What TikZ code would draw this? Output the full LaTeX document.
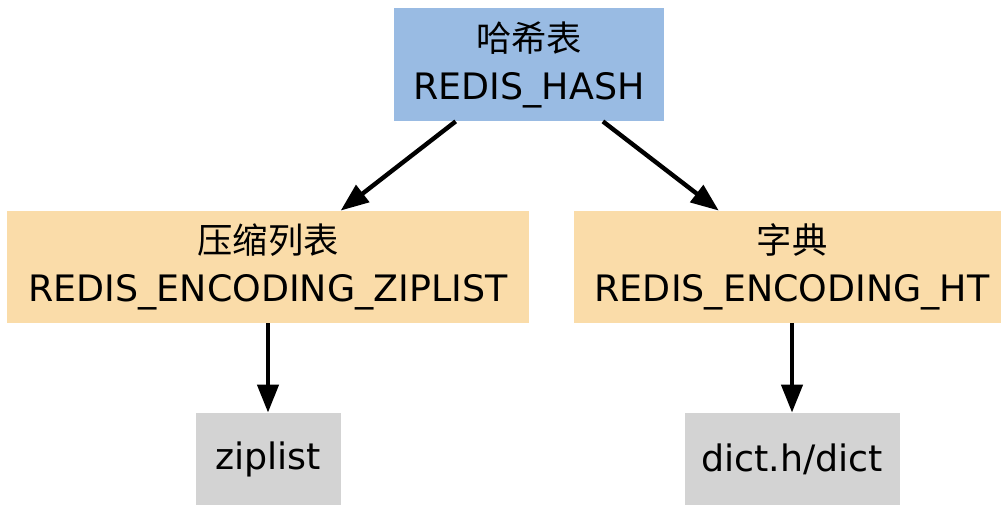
\documentclass[tikz,border=0pt]{standalone}
\usepackage{fontspec}
\setmainfont{DejaVu Sans}
\newfontfamily\cjk[Scale=0.97]{Noto Sans CJK SC}
\usetikzlibrary{arrows.meta}
\definecolor{hashblue}{HTML}{99BBE3}
\definecolor{encwheat}{HTML}{FADCA9}
\definecolor{implgray}{HTML}{D3D3D3}

\begin{document}
\begin{tikzpicture}[x=0.5pt, y=-0.5pt,
    box/.style={inner sep=0pt, align=center, font=\fontsize{18.2}{24}\selectfont},
    edge/.style={-{Triangle[length=14pt,width=10.5pt]}, line width=2.2pt}]
    \clip (0,0) rectangle (1001,505);
    \node[box, fill=hashblue, minimum width=135pt, minimum height=56.5pt] (hash) at (529,64.5) {{\cjk 哈希表}\\REDIS\_HASH};
    \node[box, fill=encwheat, minimum width=261pt, minimum height=56pt] (zipenc) at (268,267) {{\cjk 压缩列表}\\REDIS\_ENCODING\_ZIPLIST};
    \node[box, fill=encwheat, minimum width=218pt, minimum height=56pt] (htenc) at (792,267) {{\cjk 字典}\\REDIS\_ENCODING\_HT};
    \node[box, fill=implgray, minimum width=72.5pt, minimum height=46pt] (ziplist) at (268,459) {ziplist};
    \node[box, fill=implgray, minimum width=107.5pt, minimum height=46pt] (dict) at (792,459) {dict.h/dict};
    \draw[edge] (hash) -- (zipenc);
    \draw[edge] (hash) -- (htenc);
    \draw[edge] (zipenc) -- (ziplist);
    \draw[edge] (htenc) -- (dict);
\end{tikzpicture}
\end{document}
